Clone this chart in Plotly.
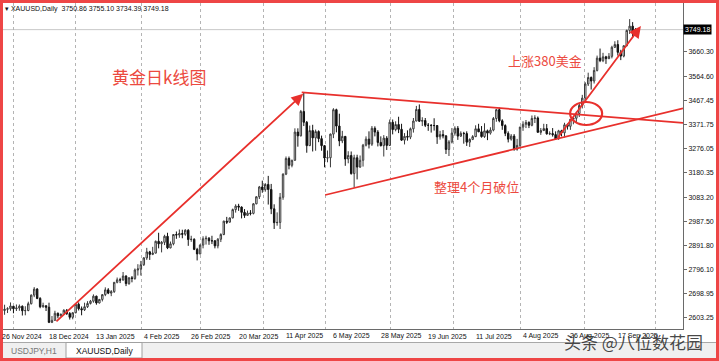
import plotly.graph_objects as go
import pandas as pd

# ---------------- data ----------------
opens = [2624, 2633, 2638, 2640,
         2650, 2640, 2643, 2650, 2632, 2633, 2660, 2694, 2718, 2681, 2648, 2652, 2646, 2586, 2594, 2622, 2612, 2617, 2634, 2621, 2606,
         2624, 2658, 2640, 2636, 2648, 2661, 2670, 2690, 2663, 2677, 2696, 2715, 2702, 2708, 2745, 2755, 2754, 2770, 2740, 2763, 2760, 2794,
         2798, 2815, 2842, 2866, 2856, 2861, 2908, 2898, 2904, 2928, 2882, 2898, 2935, 2933, 2939, 2936, 2952, 2915, 2916, 2876,
         2858, 2893, 2918, 2920, 2910, 2910, 2890, 2916, 2935, 2988, 2984, 3001, 3034, 3048, 3044, 3023, 3011, 3020, 3019, 3057, 3085,
         3124, 3113, 3134, 3114, 3037, 2982, 2983, 3083, 3175, 3237, 3210, 3230, 3342, 3327, 3424, 3381, 3288, 3348, 3319, 3344, 3316,
         3288, 3239, 3240, 3334, 3431, 3366, 3307, 3325, 3235, 3249, 3177, 3240, 3203, 3230, 3290, 3314, 3294, 3357, 3342, 3301, 3288, 3318,
         3289, 3381, 3352, 3372, 3353, 3310, 3325, 3322, 3355, 3386, 3432, 3385, 3388, 3369, 3369, 3368, 3368, 3323, 3332, 3327, 3273,
         3303, 3338, 3357, 3326, 3337, 3336, 3302, 3313, 3324, 3355, 3343, 3324, 3347, 3338, 3350, 3396, 3431, 3387, 3368, 3337, 3314, 3326, 3274,
         3289, 3362, 3373, 3380, 3369, 3396, 3398, 3341, 3348, 3356, 3335, 3336, 3332, 3315, 3347, 3339, 3371, 3365, 3393, 3397, 3416,
         3448, 3477, 3533, 3559, 3545, 3587, 3636, 3626, 3641, 3634, 3643, 3679, 3690, 3659, 3644, 3685, 3746, 3763, 3750.86]
highs = [2644, 2656, 2646, 2665,
         2651, 2657, 2657, 2653, 2650, 2668, 2697, 2726, 2722, 2686, 2664, 2653, 2664, 2611, 2632, 2625, 2622, 2638, 2639, 2627, 2626,
         2660, 2665, 2649, 2664, 2670, 2675, 2697, 2692, 2679, 2698, 2725, 2722, 2714, 2746, 2764, 2763, 2786, 2773, 2765, 2770, 2800, 2817,
         2830, 2845, 2882, 2870, 2886, 2911, 2942, 2909, 2934, 2942, 2907, 2937, 2947, 2955, 2954, 2956, 2956, 2930, 2920, 2882,
         2896, 2928, 2930, 2925, 2930, 2913, 2921, 2940, 2990, 3005, 3002, 3038, 3055, 3057, 3047, 3036, 3030, 3032, 3060, 3087, 3128,
         3149, 3139, 3168, 3136, 3055, 3023, 3100, 3178, 3245, 3245, 3232, 3357, 3357, 3430, 3500, 3386, 3368, 3371, 3352, 3349, 3328,
         3290, 3269, 3336, 3437, 3435, 3415, 3347, 3326, 3266, 3265, 3252, 3252, 3249, 3295, 3325, 3345, 3366, 3365, 3350, 3325, 3330, 3326,
         3392, 3392, 3385, 3403, 3375, 3338, 3349, 3360, 3398, 3446, 3452, 3401, 3398, 3378, 3374, 3397, 3370, 3347, 3350, 3329, 3310,
         3358, 3365, 3366, 3345, 3343, 3345, 3317, 3330, 3369, 3375, 3366, 3377, 3352, 3361, 3402, 3434, 3439, 3393, 3373, 3345, 3334, 3334, 3315,
         3363, 3385, 3390, 3385, 3408, 3409, 3404, 3358, 3375, 3374, 3345, 3358, 3345, 3351, 3351, 3379, 3376, 3394, 3399, 3423, 3454,
         3490, 3540, 3578, 3563, 3600, 3646, 3674, 3657, 3645, 3656, 3685, 3703, 3707, 3669, 3687, 3749, 3791, 3779, 3755.10]
lows = [2605, 2616, 2623, 2632,
        2622, 2631, 2632, 2613, 2614, 2630, 2657, 2686, 2678, 2642, 2644, 2631, 2583, 2583, 2592, 2602, 2609, 2615, 2615, 2597, 2598,
        2622, 2633, 2614, 2631, 2643, 2657, 2664, 2656, 2661, 2669, 2690, 2698, 2690, 2703, 2741, 2742, 2752, 2730, 2735, 2745, 2755, 2772,
        2772, 2810, 2834, 2834, 2853, 2860, 2880, 2864, 2893, 2877, 2880, 2892, 2918, 2922, 2920, 2930, 2890, 2906, 2873, 2832,
        2856, 2880, 2895, 2894, 2897, 2880, 2880, 2905, 2932, 2977, 2983, 2999, 3022, 3029, 2999, 3001, 3009, 3011, 3015, 3055, 3076,
        3101, 3105, 3054, 3016, 2957, 2970, 2957, 3073, 3171, 3194, 3202, 3228, 3284, 3325, 3366, 3260, 3287, 3265, 3268, 3302, 3268,
        3202, 3222, 3202, 3318, 3341, 3286, 3298, 3208, 3218, 3173, 3121, 3154, 3200, 3205, 3285, 3277, 3287, 3325, 3285, 3285, 3245, 3271,
        3287, 3333, 3345, 3338, 3307, 3293, 3308, 3314, 3340, 3385, 3382, 3366, 3362, 3347, 3340, 3348, 3295, 3312, 3317, 3255, 3247,
        3297, 3328, 3311, 3323, 3296, 3287, 3283, 3310, 3322, 3342, 3320, 3319, 3310, 3332, 3345, 3383, 3381, 3351, 3326, 3301, 3308, 3268, 3268,
        3281, 3347, 3358, 3358, 3365, 3378, 3340, 3331, 3347, 3332, 3330, 3324, 3311, 3312, 3325, 3321, 3352, 3351, 3373, 3380, 3402,
        3436, 3470, 3525, 3511, 3535, 3583, 3620, 3620, 3613, 3632, 3635, 3676, 3646, 3628, 3639, 3683, 3732, 3717, 3734.39]
closes = [2633, 2638, 2640, 2651,
          2640, 2643, 2650, 2632, 2633, 2660, 2694, 2718, 2681, 2648, 2652, 2646, 2586, 2594, 2622, 2612, 2617, 2634, 2621, 2606, 2624,
          2658, 2640, 2636, 2648, 2661, 2670, 2690, 2663, 2677, 2696, 2715, 2702, 2708, 2745, 2755, 2754, 2770, 2740, 2763, 2760, 2794, 2798,
          2815, 2842, 2866, 2856, 2861, 2908, 2898, 2904, 2928, 2882, 2898, 2935, 2933, 2939, 2936, 2952, 2915, 2916, 2876, 2858,
          2893, 2918, 2920, 2910, 2910, 2890, 2916, 2935, 2988, 2984, 3001, 3034, 3048, 3044, 3023, 3011, 3020, 3019, 3057, 3085, 3124,
          3113, 3134, 3114, 3037, 2982, 2983, 3083, 3175, 3237, 3210, 3230, 3342, 3327, 3424, 3381, 3288, 3348, 3319, 3344, 3316, 3288,
          3239, 3240, 3334, 3431, 3366, 3307, 3325, 3235, 3249, 3177, 3240, 3203, 3230, 3290, 3314, 3294, 3357, 3342, 3301, 3288, 3318, 3289,
          3381, 3352, 3372, 3353, 3310, 3325, 3322, 3355, 3386, 3432, 3385, 3388, 3369, 3369, 3368, 3368, 3323, 3332, 3327, 3273, 3303,
          3338, 3357, 3326, 3337, 3336, 3302, 3313, 3324, 3355, 3343, 3324, 3347, 3338, 3350, 3396, 3431, 3387, 3368, 3337, 3314, 3326, 3274, 3289,
          3362, 3373, 3380, 3369, 3396, 3398, 3341, 3348, 3356, 3335, 3336, 3332, 3315, 3347, 3339, 3371, 3365, 3393, 3397, 3416, 3448,
          3477, 3533, 3559, 3545, 3587, 3636, 3626, 3641, 3634, 3643, 3679, 3690, 3659, 3644, 3685, 3746, 3763, 3736, 3749.18]

no_trade_days = ["2024-12-25", "2025-01-01", "2025-04-18"]
dates = [d for d in pd.bdate_range("2024-11-26", "2025-09-25") if d.strftime("%Y-%m-%d") not in no_trade_days]
bar_index = list(range(len(dates)))
assert len(dates) == len(opens) == len(highs) == len(lows) == len(closes), (len(dates), len(opens), len(highs), len(lows), len(closes))

price_ticks = [3660.30, 3564.60, 3467.45, 3371.75, 3276.05, 3180.35, 3083.20,
               2987.50, 2891.80, 2796.10, 2698.95, 2603.25]
date_label_every = 16
grid_bars = [3.95, 25.1, 47.3, 67.3, 88.35, 109.4, 131.1, 152.5, 175.2, 196.9, 220.8]

# hand-drawn objects, in (bar index, price)
rally_arrow_x = [18.0, 101.8]
rally_arrow_y = [2584.6, 3494.0]
triangle_top_x = [101.3, 230.0]
triangle_top_y = [3500.0, 3379.0]
triangle_bottom_x = [109.2, 230.0]
triangle_bottom_y = [3092.0, 3436.6]
breakout_arrow_x = [187.4, 215.8]
breakout_arrow_y = [3314.6, 3763.6]
breakout_circle_x = [191.9, 202.7]
breakout_circle_y = [3370.2, 3461.6]

# ---------------- layout geometry ----------------
W, H = 719, 361
ML, MR, MT, MB = 3, 36, 3, 32
PW, PH = W - ML - MR, H - MT - MB
X_RANGE = [0.47, 230.0]
Y_RANGE = [2559.5, 3855.0]


def px(x):
    return (x - ML) / PW


def py(y):
    return (MT + PH - y) / PH


def xfrac(i):
    return (i - X_RANGE[0]) / (X_RANGE[1] - X_RANGE[0])


RED = "#e8302c"
TXT_RED = "#ec4a40"
FONT = "Liberation Sans"
CJK = "Noto Sans CJK SC"

fig = go.Figure()
fig.add_trace(go.Candlestick(
    x=bar_index, open=opens, high=highs, low=lows, close=closes,
    increasing=dict(line=dict(color="#3a3a3a", width=1), fillcolor="white"),
    decreasing=dict(line=dict(color="#111111", width=1), fillcolor="#111111"),
    whiskerwidth=0, hoverinfo="skip", showlegend=False,
))

shapes = []
# bid line
shapes.append(dict(type="line", xref="paper", yref="y", x0=0, x1=1, y0=closes[-1], y1=closes[-1],
                   line=dict(color="#c8c8c8", width=1), layer="below"))
# triangle lines
shapes.append(dict(type="line", xref="x", yref="y", x0=triangle_top_x[0], y0=triangle_top_y[0],
                   x1=triangle_top_x[1], y1=triangle_top_y[1], line=dict(color=RED, width=1.8)))
shapes.append(dict(type="line", xref="x", yref="y", x0=triangle_bottom_x[0], y0=triangle_bottom_y[0],
                   x1=triangle_bottom_x[1], y1=triangle_bottom_y[1], line=dict(color=RED, width=1.8)))
# breakout circle
shapes.append(dict(type="circle", xref="x", yref="y", x0=breakout_circle_x[0], x1=breakout_circle_x[1],
                   y0=breakout_circle_y[0], y1=breakout_circle_y[1], line=dict(color=RED, width=2.2)))
# bottom tab bar
shapes.append(dict(type="rect", xref="paper", yref="paper", x0=px(3), x1=px(716), y0=py(358), y1=py(342.5),
                   fillcolor="#f0f0f0", line=dict(width=0), layer="above"))
shapes.append(dict(type="line", xref="paper", yref="paper", x0=px(3), x1=px(716), y0=py(342.5), y1=py(342.5),
                   line=dict(color="#a8a8a8", width=1), layer="above"))
shapes.append(dict(type="rect", xref="paper", yref="paper", x0=px(66), x1=px(142), y0=py(358), y1=py(342.5),
                   fillcolor="white", line=dict(color="#a0a0a0", width=1), layer="above"))
# red frame
shapes.append(dict(type="rect", xref="paper", yref="paper", x0=px(1.5), x1=px(717.5), y0=py(359.5), y1=py(1.5),
                   line=dict(color="#ee4646", width=3), fillcolor="rgba(0,0,0,0)", layer="above"))

annotations = []
# arrows
for ax_, ay_ in ((rally_arrow_x, rally_arrow_y), (breakout_arrow_x, breakout_arrow_y)):
    annotations.append(dict(x=ax_[1], y=ay_[1], ax=ax_[0], ay=ay_[0], xref="x", yref="y", axref="x", ayref="y",
                            text="", showarrow=True, arrowhead=2, arrowsize=1.3, arrowwidth=1.8,
                            arrowcolor=RED, standoff=0, startstandoff=0))
# date labels
for i in range(0, len(dates), date_label_every):
    d = dates[i]
    annotations.append(dict(x=xfrac(i), y=py(336), xref="paper", yref="paper", xanchor="left", yanchor="middle",
                            text=f"{d.day} {d.strftime('%b %Y')}", showarrow=False, xshift=-2,
                            font=dict(family=FONT, size=7, color="#111")))
# header
annotations.append(dict(x=px(3), y=py(8.5), xref="paper", yref="paper", xanchor="left", yanchor="middle",
                        text="▾ XAUUSD,Daily&nbsp;&nbsp;" + " ".join(f"{v:.2f}" for v in
                                                              (opens[-1], highs[-1], lows[-1], closes[-1])),
                        showarrow=False, font=dict(family=FONT, size=7, color="#111")))
# current price tag
annotations.append(dict(x=1, y=closes[-1], xref="paper", yref="y", xanchor="left", yanchor="middle",
                        text=f"{closes[-1]:.2f}", showarrow=False, bgcolor="black", borderpad=1,
                        font=dict(family=FONT, size=7, color="white")))


def centered(xp, yp, text, size, color, family):
    return dict(x=px(xp), y=py(yp), xref="paper", yref="paper", xanchor="center", yanchor="middle",
                text=text, showarrow=False, font=dict(family=family, size=size, color=color))


# chinese notes
annotations.append(centered(159, 76, "黄金日k线图", 17, TXT_RED, CJK))
annotations.append(centered(545, 61, "上涨380美金", 13, TXT_RED, CJK))
annotations.append(centered(476, 186, "整理4个月破位", 13, TXT_RED, CJK))
# tabs
annotations.append(centered(34, 350.5, "USDJPY,H1", 8.5, "#777", FONT))
annotations.append(centered(104, 350.5, "XAUUSD,Daily", 8.5, "#111", FONT))
# watermark
annotations.append(centered(633, 341, "头条 @八位数花园", 17, "rgba(40,40,40,0.85)", CJK))

fig.update_layout(
    width=W, height=H, autosize=False,
    margin=dict(l=ML, r=MR, t=MT, b=MB, pad=0),
    paper_bgcolor="white", plot_bgcolor="white",
    shapes=shapes, annotations=annotations,
    showlegend=False,
    xaxis=dict(range=X_RANGE, rangeslider=dict(visible=False), showticklabels=False, ticks="",
               tickmode="array", tickvals=grid_bars, showgrid=True, gridcolor="#b4b4b4", griddash="dot",
               gridwidth=1, zeroline=False, showline=True, linecolor="#6a6a6a", linewidth=1, fixedrange=True),
    yaxis=dict(range=Y_RANGE, side="right", tickmode="array", tickvals=price_ticks,
               ticktext=[f"{v:.2f}" for v in price_ticks], ticks="outside", ticklen=3, tickcolor="#6a6a6a",
               tickfont=dict(family=FONT, size=7, color="#111"), showgrid=False, zeroline=False,
               showline=True, linecolor="#6a6a6a", linewidth=1, fixedrange=True),
    font=dict(family=FONT),
)

fig.write_html("out.html", config={"displayModeBar": False})
